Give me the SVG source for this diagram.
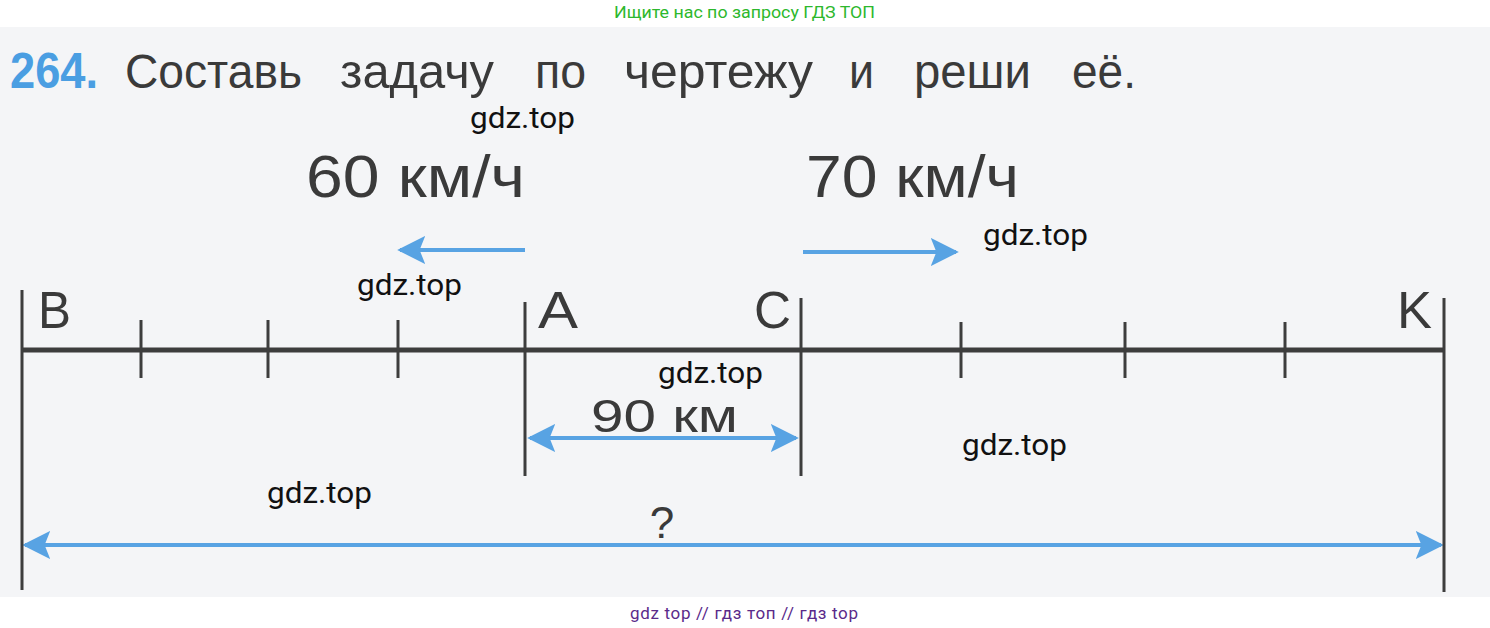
<svg xmlns="http://www.w3.org/2000/svg" width="1490" height="628" viewBox="0 0 1490 628">
<style>
.bk{stroke:#3d3d3d;stroke-width:3;fill:none}
.ax{stroke:#3d3d3d;stroke-width:5;fill:none}
.bl{stroke:#58a3e3;stroke-width:4;fill:none}
.t{font-family:"Liberation Sans",Arial,sans-serif;fill:#3a3a3a}
.h{font-family:"Liberation Sans",Arial,sans-serif;fill:#3a3a3a;font-size:48px}
.w{font-family:Roboto,"Liberation Sans",sans-serif;fill:#111;font-size:30px}
</style>
<defs>
<marker id="ah" viewBox="0 0 10 10" refX="9" refY="5" markerWidth="7" markerHeight="7" markerUnits="strokeWidth" orient="auto-start-reverse">
<path d="M0,0 L10,5 L0,10 L2,5 Z" fill="#58a3e3"/>
</marker>
</defs>
<rect width="1490" height="628" fill="#ffffff"/>
<rect x="0" y="27" width="1490" height="570" fill="#f4f5f7"/>
<text x="614" y="18" font-family="Roboto,'Liberation Sans',sans-serif" font-size="17" fill="#2db82d" textLength="261" lengthAdjust="spacingAndGlyphs">Ищите нас по запросу ГДЗ ТОП</text>
<g id="title">
<text x="10" y="88" class="t" font-size="50" font-weight="bold" style="fill:#4a9ee2" textLength="88" lengthAdjust="spacingAndGlyphs">264.</text>
<text x="125" y="88" class="h" textLength="177" lengthAdjust="spacingAndGlyphs">Составь</text>
<text x="340" y="88" class="h" textLength="154" lengthAdjust="spacingAndGlyphs">задачу</text>
<text x="535" y="88" class="h" textLength="51" lengthAdjust="spacingAndGlyphs">по</text>
<text x="624" y="88" class="h" textLength="189" lengthAdjust="spacingAndGlyphs">чертежу</text>
<text x="849" y="88" class="h" textLength="25" lengthAdjust="spacingAndGlyphs">и</text>
<text x="914" y="88" class="h" textLength="117" lengthAdjust="spacingAndGlyphs">реши</text>
<text x="1072" y="88" class="h" textLength="64" lengthAdjust="spacingAndGlyphs">её.</text>
</g>
<g id="speeds">
<text x="306" y="197" class="t" font-size="59" textLength="219" lengthAdjust="spacingAndGlyphs">60 км/ч</text>
<text x="806" y="197" class="t" font-size="59" textLength="213" lengthAdjust="spacingAndGlyphs">70 км/ч</text>
</g>
<g id="connectors">
<line class="bl" x1="525" y1="250" x2="400" y2="250" marker-end="url(#ah)"/>
<line class="bl" x1="803" y1="252" x2="956" y2="252" marker-end="url(#ah)"/>
<line class="bl" x1="530" y1="438" x2="796" y2="438" marker-start="url(#ah)" marker-end="url(#ah)"/>
<line class="bl" x1="25" y1="545" x2="1441" y2="545" marker-start="url(#ah)" marker-end="url(#ah)"/>
</g>
<g id="axis">
<line class="ax" x1="22" y1="350" x2="1444" y2="350"/>
<line class="bk" x1="22" y1="290" x2="22" y2="590"/>
<line class="bk" x1="141" y1="320" x2="141" y2="378"/>
<line class="bk" x1="268" y1="320" x2="268" y2="378"/>
<line class="bk" x1="398" y1="320" x2="398" y2="378"/>
<line class="bk" x1="525" y1="302" x2="525" y2="476"/>
<line class="bk" x1="801" y1="298" x2="801" y2="476"/>
<line class="bk" x1="961" y1="322" x2="961" y2="378"/>
<line class="bk" x1="1125" y1="322" x2="1125" y2="378"/>
<line class="bk" x1="1285" y1="322" x2="1285" y2="378"/>
<line class="bk" x1="1444" y1="298" x2="1444" y2="592"/>
</g>
<g id="labels">
<text x="38" y="328" class="t" font-size="52" textLength="33" lengthAdjust="spacingAndGlyphs">B</text>
<text x="538" y="328" class="t" font-size="52" textLength="40" lengthAdjust="spacingAndGlyphs">A</text>
<text x="754" y="328" class="t" font-size="52" textLength="37" lengthAdjust="spacingAndGlyphs">C</text>
<text x="1397" y="328" class="t" font-size="52" textLength="35" lengthAdjust="spacingAndGlyphs">K</text>
<text x="591" y="432" class="t" font-size="47" textLength="147" lengthAdjust="spacingAndGlyphs">90 км</text>
<text x="662" y="538" class="t" font-size="44" text-anchor="middle">?</text>
</g>
<g id="watermarks">
<text x="470" y="128" class="w" textLength="105" lengthAdjust="spacingAndGlyphs">gdz.top</text>
<text x="983" y="245" class="w" textLength="105" lengthAdjust="spacingAndGlyphs">gdz.top</text>
<text x="357" y="295" class="w" textLength="105" lengthAdjust="spacingAndGlyphs">gdz.top</text>
<text x="658" y="383" class="w" textLength="105" lengthAdjust="spacingAndGlyphs">gdz.top</text>
<text x="962" y="455" class="w" textLength="105" lengthAdjust="spacingAndGlyphs">gdz.top</text>
<text x="267" y="503" class="w" textLength="105" lengthAdjust="spacingAndGlyphs">gdz.top</text>
</g>
<text x="630" y="619" font-family="Roboto,'Liberation Sans',sans-serif" font-size="17" fill="#5a2a8a" textLength="228" lengthAdjust="spacing">gdz top  //  гдз топ  //  гдз top</text>
</svg>
